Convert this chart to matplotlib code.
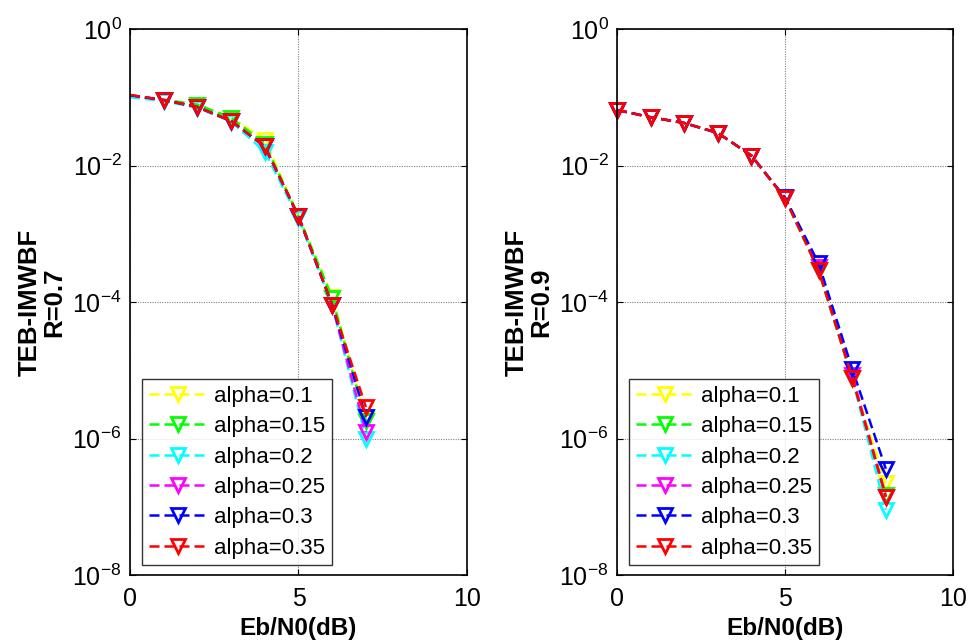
import matplotlib
matplotlib.use("Agg")
import matplotlib.pyplot as plt
from matplotlib.ticker import FixedLocator, LogFormatterMathtext, NullLocator

plt.rcParams["font.family"] = ["Liberation Sans", "DejaVu Sans"]
plt.rcParams["mathtext.fontset"] = "custom"
plt.rcParams["mathtext.rm"] = "Liberation Sans"
plt.rcParams["mathtext.it"] = "Liberation Sans"
plt.rcParams["mathtext.bf"] = "Liberation Sans:bold"

# Eb/N0 points (dB)
ebn0_r07 = [0, 1, 2, 3, 4, 5, 6, 7]
ebn0_r09 = [0, 1, 2, 3, 4, 5, 6, 7, 8]

labels = ["alpha=0.1", "alpha=0.15", "alpha=0.2", "alpha=0.25", "alpha=0.3", "alpha=0.35"]
colors = ["#ffff00", "#00ff00", "#00ffff", "#ff00ff", "#0000ff", "#ff0000"]

# Bit error rate, code rate R = 0.7
ber_r07_a010 = [0.105, 0.092, 0.078, 0.050, 0.024, 0.0018, 1.20e-4, 1.9e-6]
ber_r07_a015 = [0.105, 0.092, 0.078, 0.050, 0.021, 0.0018, 1.15e-4, 1.8e-6]
ber_r07_a020 = [0.100, 0.088, 0.070, 0.044, 0.016, 0.0017, 9.0e-5, 1.0e-6]
ber_r07_a025 = [0.107, 0.091, 0.072, 0.045, 0.019, 0.0018, 9.0e-5, 1.25e-6]
ber_r07_a030 = [0.107, 0.091, 0.072, 0.045, 0.019, 0.0018, 9.0e-5, 2.1e-6]
ber_r07_a035 = [0.108, 0.091, 0.072, 0.045, 0.019, 0.0018, 9.1e-5, 2.9e-6]

# Bit error rate, code rate R = 0.9
ber_r09_a010 = [0.065, 0.051, 0.042, 0.030, 0.014, 0.0033, 2.9e-4, 7.7e-6, 2.2e-7]
ber_r09_a015 = [0.065, 0.051, 0.042, 0.030, 0.014, 0.0033, 2.9e-4, 7.7e-6, 1.5e-7]
ber_r09_a020 = [0.065, 0.051, 0.042, 0.030, 0.014, 0.0033, 2.9e-4, 7.7e-6, 9.0e-8]
ber_r09_a025 = [0.065, 0.051, 0.042, 0.030, 0.014, 0.0033, 3.3e-4, 8.5e-6, 1.4e-7]
ber_r09_a030 = [0.065, 0.051, 0.042, 0.030, 0.014, 0.0034, 3.7e-4, 1.05e-5, 3.6e-7]
ber_r09_a035 = [0.065, 0.051, 0.042, 0.030, 0.014, 0.0033, 2.9e-4, 7.7e-6, 1.4e-7]

panels = [
    (ebn0_r07, [ber_r07_a010, ber_r07_a015, ber_r07_a020, ber_r07_a025, ber_r07_a030, ber_r07_a035],
     "TEB-IMWBF\nR=0.7", 1),
    (ebn0_r09, [ber_r09_a010, ber_r09_a015, ber_r09_a020, ber_r09_a025, ber_r09_a030, ber_r09_a035],
     "TEB-IMWBF\nR=0.9", 0),
]

W, H = 970, 644
fig = plt.figure(figsize=(W / 100, H / 100), dpi=100)
ax_boxes = [(130, 29, 467, 575), (617, 29, 953, 575)]

for (x, series, ylabel, first_mark), (l, t, r, b) in zip(panels, ax_boxes):
    ax = fig.add_axes([l / W, (H - b) / H, (r - l) / W, (b - t) / H])
    for ys, c, lab in zip(series, colors, labels):
        ax.semilogy(x, ys, linestyle=(0, (4.0, 2.0)), color=c, linewidth=1.8,
                    marker="v", markersize=10.5, markerfacecolor="none",
                    markeredgecolor=c, markeredgewidth=2.0,
                    markevery=list(range(first_mark, len(x))), label=lab, clip_on=False)
    ax.set_xlim(0, 10)
    ax.set_ylim(1e-8, 1)
    ax.xaxis.set_major_locator(FixedLocator([0, 5, 10]))
    ax.yaxis.set_major_locator(FixedLocator([1e-8, 1e-6, 1e-4, 1e-2, 1]))
    ax.yaxis.set_minor_locator(NullLocator())
    ax.yaxis.set_major_formatter(LogFormatterMathtext())
    ax.tick_params(direction="in", length=4, width=0.8, labelsize=18,
                   top=True, right=True)
    ax.tick_params(axis="x", pad=9)
    ax.tick_params(axis="y", pad=6)
    ax.grid(True, which="major", color="#808080", linestyle=(0, (1, 1.2)), linewidth=0.8)
    for s in ax.spines.values():
        s.set_linewidth(1.2)
    ax.set_xlabel("Eb/N0(dB)", fontsize=17.5, fontweight="bold", labelpad=4)
    ax.set_ylabel(ylabel, fontsize=18.5, fontweight="bold", linespacing=1.0)
    ax.yaxis.set_label_coords(-0.19, 0.5)
    leg = ax.legend(loc="lower left", bbox_to_anchor=(0.036, 0.018), borderaxespad=0,
                    fontsize=16, frameon=True, fancybox=False, edgecolor="black",
                    handlelength=2.6, handletextpad=0.35, labelspacing=0.42,
                    borderpad=0.3)
    leg.get_frame().set_linewidth(1.0)

fig.savefig("out.png", dpi=100, facecolor="white")
